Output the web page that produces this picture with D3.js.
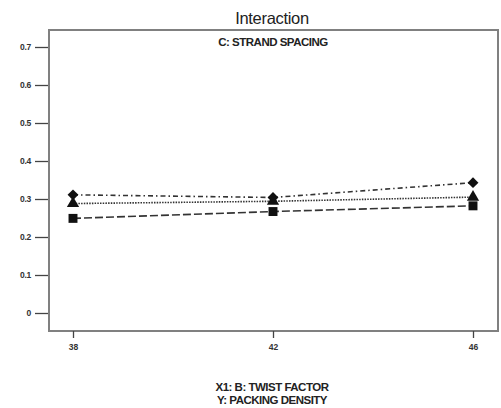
<!DOCTYPE html>
<html><head><meta charset="utf-8">
<script src="https://cdn.jsdelivr.net/npm/d3@7"></script>
<style>body{margin:0;background:#fff}svg{display:block}</style>
</head><body>
<svg id="c" width="501" height="408"></svg>
<script>
const xLevels = [38, 42, 46];
const yTicks = [0, 0.1, 0.2, 0.3, 0.4, 0.5, 0.6, 0.7];
const seriesDiamond = [0.311, 0.304, 0.343];
const seriesTriangle = [0.288, 0.294, 0.305];
const seriesSquare = [0.249, 0.267, 0.282];

const svg = d3.select("#c");
const font = "Liberation Sans, Arial, sans-serif";
const frame = {l: 49, t: 30, r: 498, b: 331};
const x = d3.scaleLinear().domain([38, 46]).range([73, 473]);
const y = d3.scaleLinear().domain([0, 0.7]).range([313, 47]);

svg.append("rect").attr("x", frame.l).attr("y", frame.t)
  .attr("width", frame.r - frame.l).attr("height", frame.b - frame.t)
  .attr("fill", "none").attr("stroke", "#808080").attr("stroke-width", 2);

const ya = svg.append("g").attr("transform", `translate(${frame.l - 1},0)`)
  .call(d3.axisLeft(y).tickValues(yTicks).tickSize(13).tickPadding(4).tickFormat(d => d === 0 ? "0" : d3.format(".1f")(d)));
ya.select(".domain").remove();
ya.selectAll("line").attr("stroke", "#444").attr("stroke-width", 1.3);
ya.selectAll("text").attr("font-family", font).attr("font-size", 8.5).attr("font-weight", "bold").attr("fill", "#333").attr("letter-spacing", -0.3);

const xa = svg.append("g").attr("transform", `translate(0,${frame.b})`)
  .call(d3.axisBottom(x).tickValues(xLevels).tickSize(7).tickPadding(6).tickFormat(d3.format("d")));
xa.select(".domain").remove();
xa.selectAll("line").attr("stroke", "#444").attr("stroke-width", 1.3);
xa.selectAll("text").attr("font-family", font).attr("font-size", 8.5).attr("font-weight", "bold").attr("fill", "#333");

svg.append("text").attr("x", 272).attr("y", 24).attr("text-anchor", "middle")
  .attr("font-family", font).attr("font-size", 16.5).attr("fill", "#222").attr("letter-spacing", -0.3).text("Interaction");
svg.append("text").attr("x", 273).attr("y", 46).attr("text-anchor", "middle")
  .attr("font-family", font).attr("font-size", 11.5).attr("font-weight", "bold").attr("fill", "#222").attr("letter-spacing", -0.5).text("C: STRAND SPACING");
svg.append("text").attr("x", 272).attr("y", 391).attr("text-anchor", "middle")
  .attr("font-family", font).attr("font-size", 11.5).attr("font-weight", "bold").attr("fill", "#222").attr("letter-spacing", -0.5).text("X1: B: TWIST FACTOR");
svg.append("text").attr("x", 272).attr("y", 404).attr("text-anchor", "middle")
  .attr("font-family", font).attr("font-size", 11.5).attr("font-weight", "bold").attr("fill", "#222").attr("letter-spacing", -0.5).text("Y: PACKING DENSITY");

const series = [
  {vals: seriesDiamond, dash: "5,3,1.5,3", sym: d3.symbolDiamond2, size: 75},
  {vals: seriesTriangle, dash: "1.5,1.2", sym: d3.symbolTriangle, size: 65},
  {vals: seriesSquare, dash: "8,3", sym: d3.symbolSquare, size: 80}
];
const line = d3.line().x((d, i) => x(xLevels[i])).y(d => y(d));
series.forEach(s => {
  svg.append("path").attr("d", line(s.vals)).attr("fill", "none")
    .attr("stroke", "#333").attr("stroke-width", 1.6).attr("stroke-dasharray", s.dash);
  svg.selectAll(null).data(s.vals).enter().append("path")
    .attr("transform", (d, i) => `translate(${x(xLevels[i])},${y(d)})`)
    .attr("d", d3.symbol().type(s.sym).size(s.size)).attr("fill", "#111");
});
</script>
</body></html>
